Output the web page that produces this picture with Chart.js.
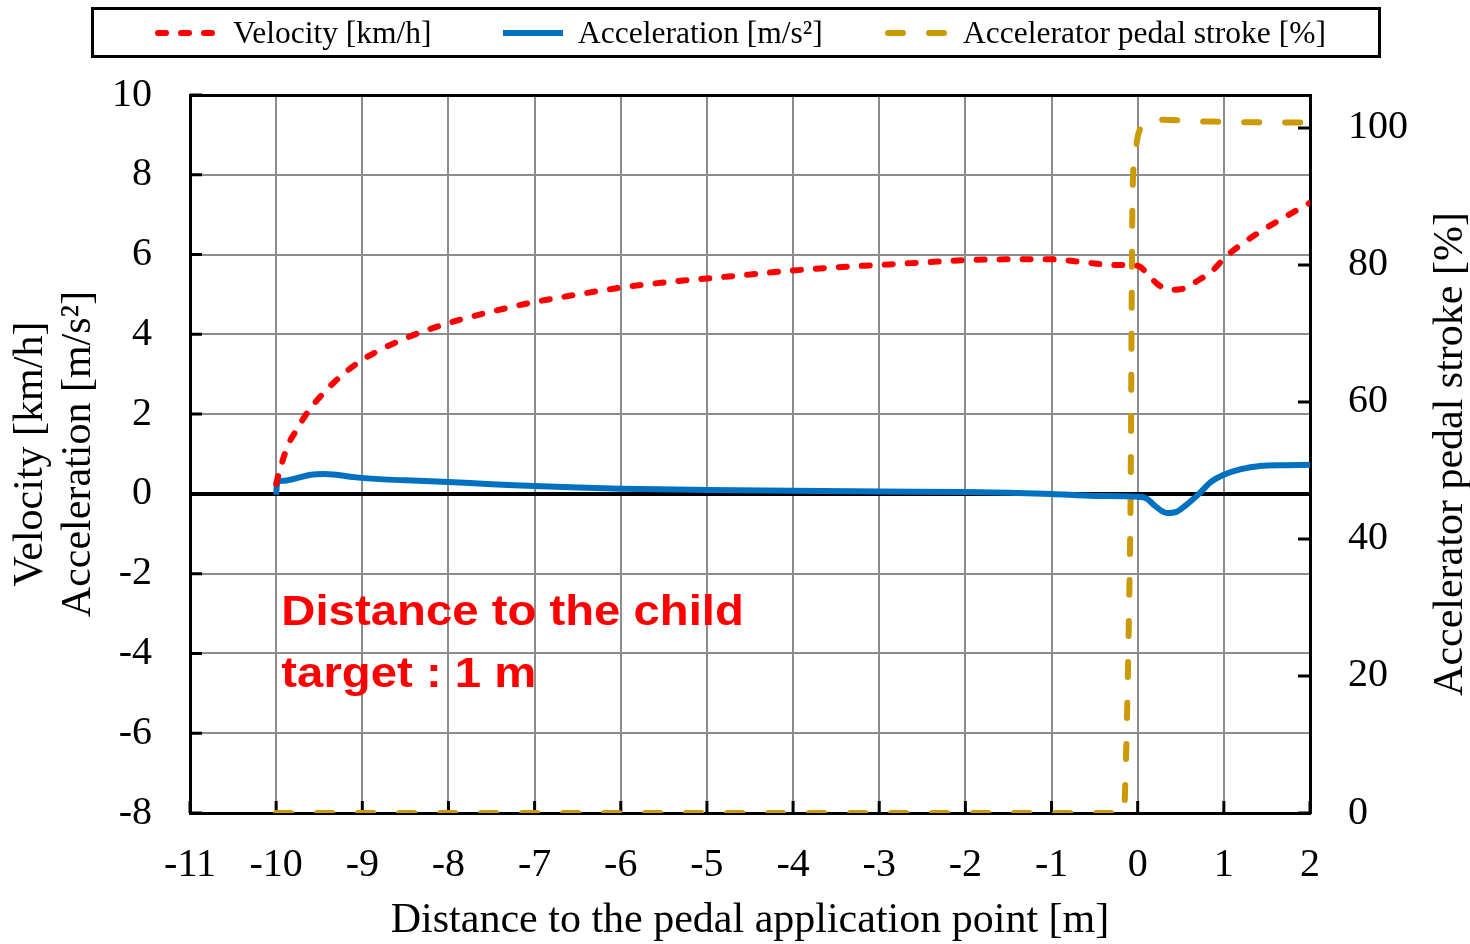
<!DOCTYPE html>
<html>
<head>
<meta charset="utf-8">
<script src="https://cdn.jsdelivr.net/npm/chart.js@4.4.1/dist/chart.umd.min.js"></script>
<style>
  body { margin: 0; background: #fff; }
  #wrap { position: relative; width: 1470px; height: 944px; }
  #legend { position: absolute; left: 91px; top: 7px; width: 1284px; height: 45px; border: 3px solid #000; }
  .item { position: absolute; top: 0; height: 45px; display: flex; align-items: center;
          font-family: "Liberation Serif", "Times New Roman", serif; font-size: 31.5px; color: #000; white-space: nowrap; }
  .item svg { margin-right: 12px; }
</style>
</head>
<body>
<div id="wrap">
  <canvas id="chart" width="1470" height="944"></canvas>
  <div id="legend"></div>
</div>
<script>
// Velocity [km/h] (left axis)
const velX = [-10, -9.97, -9.87, -9.75, -9.64, -9.45, -9.26, -9.0, -8.5, -8.0, -7.5, -7.0, -6.5, -6.0, -5.5, -5.0,
  -4.5, -4.0, -3.5, -3.0, -2.5, -2.0, -1.5, -1.0, -0.6, -0.3, 0, 0.12, 0.24, 0.41, 0.52, 0.7, 0.87, 1.0, 1.2, 1.42, 1.7, 2.0];
const velY = [0.25, 0.5, 1.18, 1.65, 2.03, 2.53, 2.93, 3.36, 3.9, 4.28, 4.57, 4.81, 5.0, 5.17, 5.3, 5.4,
  5.5, 5.6, 5.68, 5.74, 5.8, 5.86, 5.88, 5.88, 5.8, 5.74, 5.72, 5.5, 5.24, 5.12, 5.14, 5.35, 5.6, 5.9, 6.25, 6.57, 6.93, 7.3];

// Acceleration [m/s2] (left axis)
const accX = [-10, -9.99, -9.97, -9.9, -9.75, -9.6, -9.45, -9.3, -9.1, -8.8, -8.5, -8.0, -7.5, -7.0, -6.5, -6.0,
  -5.0, -4.0, -3.0, -2.0, -1.5, -1.0, -0.5, 0, 0.1, 0.2, 0.34, 0.45, 0.55, 0.72, 0.85, 1.0, 1.2, 1.42, 1.7, 2.0];
const accY = [-0.02, 0.25, 0.32, 0.33, 0.4, 0.48, 0.5, 0.48, 0.42, 0.37, 0.34, 0.3, 0.24, 0.2, 0.16, 0.13,
  0.1, 0.08, 0.06, 0.05, 0.03, 0.0, -0.05, -0.07, -0.11, -0.3, -0.48, -0.45, -0.3, 0.02, 0.3, 0.48, 0.62, 0.7, 0.72, 0.73];

// Accelerator pedal stroke [%] (right axis)
const pedX = [-10, -0.16, -0.14, -0.1, -0.08, -0.07, -0.06, -0.03, 0.0, 0.05, 0.14, 0.3, 0.6, 1.0, 1.5, 2.0];
const pedY = [0, 0, 6, 30, 50, 74, 90, 96, 98.7, 100.3, 100.9, 101.2, 101, 100.9, 100.8, 100.8];

const seriesNames = ['Velocity [km/h]', 'Acceleration [m/s²]', 'Accelerator pedal stroke [%]'];

// text box inside the plot
const noteLines = ['Distance to the child', 'target : 1 m'];
const noteX = -9.94;
const noteY = [-3.28, -4.84];

const FONT = '"Liberation Serif", "Times New Roman", serif';

function pts(xs, ys) {
    return xs.map((x, i) => ({ x: x, y: ys[i] }));
}

// inward tick marks, note text and right-hand title
const extras = {
    id: 'extras',
    beforeDatasetsDraw(chart) {
        const ctx = chart.ctx;
        const a = chart.chartArea;
        ctx.save();
        ctx.strokeStyle = '#000';
        ctx.lineWidth = 3;
        ctx.beginPath();
        chart.scales.y.ticks.forEach(t => {
            const y = chart.scales.y.getPixelForValue(t.value);
            ctx.moveTo(a.left, y); ctx.lineTo(a.left + 12, y);
        });
        chart.scales.y2.ticks.forEach(t => {
            const y = chart.scales.y2.getPixelForValue(t.value);
            ctx.moveTo(a.right - 12, y); ctx.lineTo(a.right, y);
        });
        chart.scales.x.ticks.forEach(t => {
            const x = chart.scales.x.getPixelForValue(t.value);
            ctx.moveTo(x, a.bottom); ctx.lineTo(x, a.bottom - 12);
        });
        ctx.stroke();
        ctx.restore();
    },
    afterDraw(chart) {
        const ctx = chart.ctx;
        const a = chart.chartArea;
        ctx.save();
        // note
        ctx.fillStyle = '#ff0000';
        ctx.font = 'bold 43px "Liberation Sans", Arial, sans-serif';
        ctx.textAlign = 'left';
        ctx.textBaseline = 'alphabetic';
        const nx = chart.scales.x.getPixelForValue(noteX);
        noteLines.forEach((s, i) => {
            const ny = chart.scales.y.getPixelForValue(noteY[i]);
            ctx.save();
            ctx.translate(nx, ny);
            ctx.scale(1.1, 1);
            ctx.fillText(s, 0, 0);
            ctx.restore();
        });
        // right axis title, reading bottom to top
        ctx.fillStyle = '#000';
        ctx.font = '42px ' + FONT;
        ctx.textAlign = 'center';
        ctx.translate(1462, (a.top + a.bottom) / 2);
        ctx.rotate(-Math.PI / 2);
        ctx.fillText('Accelerator pedal stroke [%]', 0, 0);
        ctx.restore();
    }
};

const chart = new Chart(document.getElementById('chart'), {
    type: 'line',
    data: {
        datasets: [
            {
                label: seriesNames[0],
                data: pts(velX, velY),
                yAxisID: 'y',
                borderColor: '#ff0000',
                borderWidth: 6,
                borderDash: [8, 15],
                borderCapStyle: 'round',
                cubicInterpolationMode: 'monotone',
                pointRadius: 0,
                fill: false
            },
            {
                label: seriesNames[1],
                data: pts(accX, accY),
                yAxisID: 'y',
                borderColor: '#0070c0',
                borderWidth: 6,
                cubicInterpolationMode: 'monotone',
                pointRadius: 0,
                fill: false
            },
            {
                label: seriesNames[2],
                data: pts(pedX, pedY),
                yAxisID: 'y2',
                borderColor: '#cc9a06',
                borderWidth: 6,
                borderDash: [15, 26],
                borderCapStyle: 'round',
                cubicInterpolationMode: 'monotone',
                pointRadius: 0,
                fill: false
            }
        ]
    },
    options: {
        responsive: false,
        devicePixelRatio: 1,
        animation: false,
        layout: { padding: { top: 95, left: 7, right: 0, bottom: 0 } },
        plugins: {
            legend: { display: false },
            tooltip: { enabled: false }
        },
        scales: {
            x: {
                type: 'linear',
                position: 'bottom',
                min: -11,
                max: 2,
                ticks: { stepSize: 1, color: '#000', font: { family: FONT, size: 40 }, padding: 28, maxRotation: 0 },
                grid: { color: '#8c8c8c', lineWidth: 2, drawTicks: false },
                border: { color: '#000', width: 3 },
                title: {
                    display: true,
                    text: 'Distance to the pedal application point [m]',
                    color: '#000',
                    font: { family: FONT, size: 42, lineHeight: 1.1 },
                    padding: 0
                },
                afterFit: s => { s.height = 131; }
            },
            y: {
                position: 'left',
                min: -8,
                max: 10,
                ticks: { stepSize: 2, color: '#000', font: { family: FONT, size: 40 }, padding: 38 },
                grid: {
                    color: c => (c.tick && (c.tick.value === 0 || c.tick.value === 10)) ? '#000' : '#8c8c8c',
                    lineWidth: c => (c.tick && c.tick.value === 0) ? 4 : (c.tick && c.tick.value === 10 ? 3 : 2),
                    drawTicks: false
                },
                border: { color: '#000', width: 3 },
                title: {
                    display: true,
                    text: ['Velocity [km/h]', 'Acceleration [m/s²]'],
                    color: '#000',
                    font: { family: FONT, size: 42, lineHeight: 1.143 },
                    padding: 0
                },
                afterFit: s => { s.width = 183; }
            },
            y2: {
                position: 'right',
                min: 0,
                max: 104.8,
                ticks: { stepSize: 20, includeBounds: false, color: '#000', font: { family: FONT, size: 40 }, padding: 38 },
                grid: { drawOnChartArea: false, drawTicks: false },
                border: { color: '#000', width: 3 },
                afterFit: s => { s.width = 160; }
            }
        }
    },
    plugins: [extras]
});

// HTML legend built from the datasets
const legendX = [61, 406, 791];
const legendEl = document.getElementById('legend');
chart.data.datasets.forEach((ds, i) => {
    const item = document.createElement('div');
    item.className = 'item';
    item.style.left = legendX[i] + 'px';
    const dash = ds.borderDash ? ds.borderDash.join(' ') : 'none';
    item.innerHTML =
        `<svg width="66" height="10"><line x1="3" y1="5" x2="63" y2="5" stroke="${ds.borderColor}" stroke-width="6"` +
        ` stroke-dasharray="${dash}" stroke-linecap="${ds.borderDash ? 'round' : 'butt'}"/></svg><span>${ds.label}</span>`;
    legendEl.appendChild(item);
});
</script>
</body>
</html>
